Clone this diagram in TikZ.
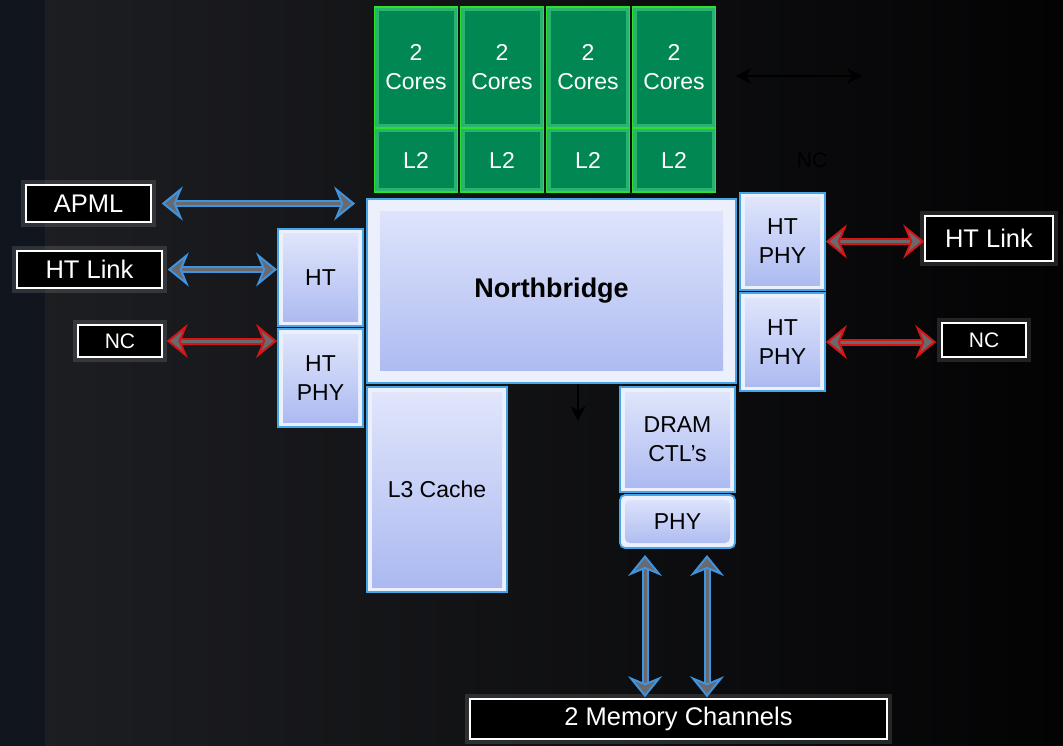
\documentclass[tikz,border=0pt]{standalone}
\usepackage{fontspec}
\setmainfont{Liberation Sans}
\usetikzlibrary{arrows.meta}

\definecolor{bgleft}{RGB}{30,31,35}
\definecolor{bgright}{RGB}{3,3,4}
\definecolor{bgstrip}{RGB}{17,21,29}
\definecolor{coregreen}{RGB}{0,135,82}
\definecolor{corelight}{RGB}{40,180,110}
\definecolor{coreedge}{RGB}{45,225,45}
\definecolor{boxtop}{RGB}{226,231,252}
\definecolor{boxbot}{RGB}{170,184,240}
\definecolor{boxrim}{RGB}{236,240,253}
\definecolor{boxedge}{RGB}{70,165,230}
\definecolor{linkblue}{RGB}{62,148,222}
\definecolor{linkred}{RGB}{212,22,22}
\definecolor{linkcore}{RGB}{105,105,110}

\newcommand\boxfont{\fontsize{23}{29}\selectfont}
\newcommand\tagfont{\fontsize{25.5}{30}\selectfont}
\newcommand\ncfont{\fontsize{21}{25}\selectfont}
\newcommand\nbfont{\fontsize{27}{30}\selectfont\bfseries}

\begin{document}
\begin{tikzpicture}[x=1pt, y=-1pt,
    corebox/.style={draw=coreedge, line width=1.8pt, fill=corelight, minimum width=83pt,
      inner sep=0pt, text=white, align=center, font=\boxfont,
      path picture={\fill[coregreen] ([shift={(4pt,-4pt)}]path picture bounding box.north west)
        rectangle ([shift={(-4pt,4pt)}]path picture bounding box.south east);}},
    chipbox/.style={draw=boxedge, line width=1.8pt, fill=boxrim, inner sep=0pt,
      align=center, font=\boxfont,
      path picture={\shade[top color=boxtop, bottom color=boxbot]
        ([shift={(#1,-#1)}]path picture bounding box.north west)
        rectangle ([shift={(-#1,#1)}]path picture bounding box.south east);}},
    chipbox/.default=5pt,
    tagbox/.style={draw=white, line width=1.5pt, fill=black, text=white, inner sep=0pt,
      font=\tagfont, preaction={draw=white, draw opacity=0.12, line width=10pt}},
    link/.style={line width=2pt, double distance=3pt,
      >={Stealth[length=21pt, width=34pt, inset=7pt, fill=linkcore]}, <->},
    bluelink/.style={link, draw=linkblue, double=linkcore},
    redlink/.style={link, draw=linkred, double=linkcore},
    blackarrow/.style={line width=1.2pt, >={Stealth[length=15pt, width=15pt]}}]

    % Background
    \fill[left color=bgleft, right color=bgright] (0,0) rectangle (1063,746);
    \fill[bgstrip] (0,0) rectangle (45,746);

    % Define the core columns
    \node[corebox, minimum height=121pt] (c1) at (416,67.5) {2\\Cores};
    \node[corebox, minimum height=121pt] (c2) at (502,67.5) {2\\Cores};
    \node[corebox, minimum height=121pt] (c3) at (588,67.5) {2\\Cores};
    \node[corebox, minimum height=121pt] (c4) at (674,67.5) {2\\Cores};
    \node[corebox, minimum height=64pt] (l1) at (416,160) {L2};
    \node[corebox, minimum height=64pt] (l2) at (502,160) {L2};
    \node[corebox, minimum height=64pt] (l3) at (588,160) {L2};
    \node[corebox, minimum height=64pt] (l4) at (674,160) {L2};

    % Define the chip blocks
    \node[chipbox=13pt, minimum width=369pt, minimum height=184pt, font=\nbfont] (nb) at (551.5,291) {Northbridge};
    \node[chipbox, minimum width=140pt, minimum height=205pt] (cache) at (437,489.5) {L3 Cache};
    \node[chipbox, minimum width=115pt, minimum height=105pt] (dram) at (677.5,439.5) {DRAM\\CTL’s};
    \node[chipbox, minimum width=115pt, minimum height=53pt, rounded corners=5pt] (phy) at (677.5,521.5) {PHY};
    \node[chipbox, minimum width=85pt, minimum height=97pt] (htl) at (320.5,277.5) {HT};
    \node[chipbox, minimum width=85pt, minimum height=98pt] (htphyl) at (320.5,378) {HT\\PHY};
    \node[chipbox, minimum width=85pt, minimum height=97pt] (htphya) at (782.5,241.5) {HT\\PHY};
    \node[chipbox, minimum width=85pt, minimum height=98pt] (htphyb) at (782.5,342) {HT\\PHY};

    % Define the outside labels
    \node[tagbox, minimum width=125pt, minimum height=37pt] (apml) at (88.5,203.5) {APML};
    \node[tagbox, minimum width=145pt, minimum height=37pt] (linkl) at (89.5,269.5) {HT Link};
    \node[tagbox, minimum width=84pt, minimum height=32pt, font=\ncfont] (ncl) at (120,341) {NC};
    \node[tagbox, minimum width=128pt, minimum height=45pt] (linkr) at (989,238.5) {HT Link};
    \node[tagbox, minimum width=84pt, minimum height=34pt, font=\ncfont] (ncr) at (984,340) {NC};
    \node[tagbox, minimum width=417pt, minimum height=40pt] (mem) at (678.5,719) {2 Memory Channels};
    \node[font=\ncfont, text=black] (nctop) at (812,160) {NC};

    % Draw the links
    \draw[bluelink, shorten <=10pt, shorten >=11pt] (apml.east) -- (apml.east -| nb.west);
    \draw[bluelink, shorten <=5pt] (linkl.east) -- (linkl.east -| htl.west);
    \draw[redlink, shorten <=4pt] (ncl.east) -- (ncl.east -| htphyl.west);
    \draw[redlink] (htphya.east) -- (htphya.east -| linkr.west);
    \draw[redlink, shorten >=5pt] (htphyb.east) -- (htphyb.east -| ncr.west);

    \coordinate (ch1) at (645,548);
    \coordinate (ch2) at (707,548);
    \draw[bluelink, shorten <=7pt, shorten >=1pt] (ch1) -- (ch1 |- mem.north);
    \draw[bluelink, shorten <=7pt, shorten >=1pt] (ch2) -- (ch2 |- mem.north);

    \coordinate (nbout) at (578,421);
    \draw[blackarrow, ->] (nbout |- nb.south) -- (nbout);
    \coordinate (xl) at (736,76);
    \coordinate (xr) at (862,76);
    \draw[blackarrow, <->] (xl) -- (xr);
\end{tikzpicture}
\end{document}
